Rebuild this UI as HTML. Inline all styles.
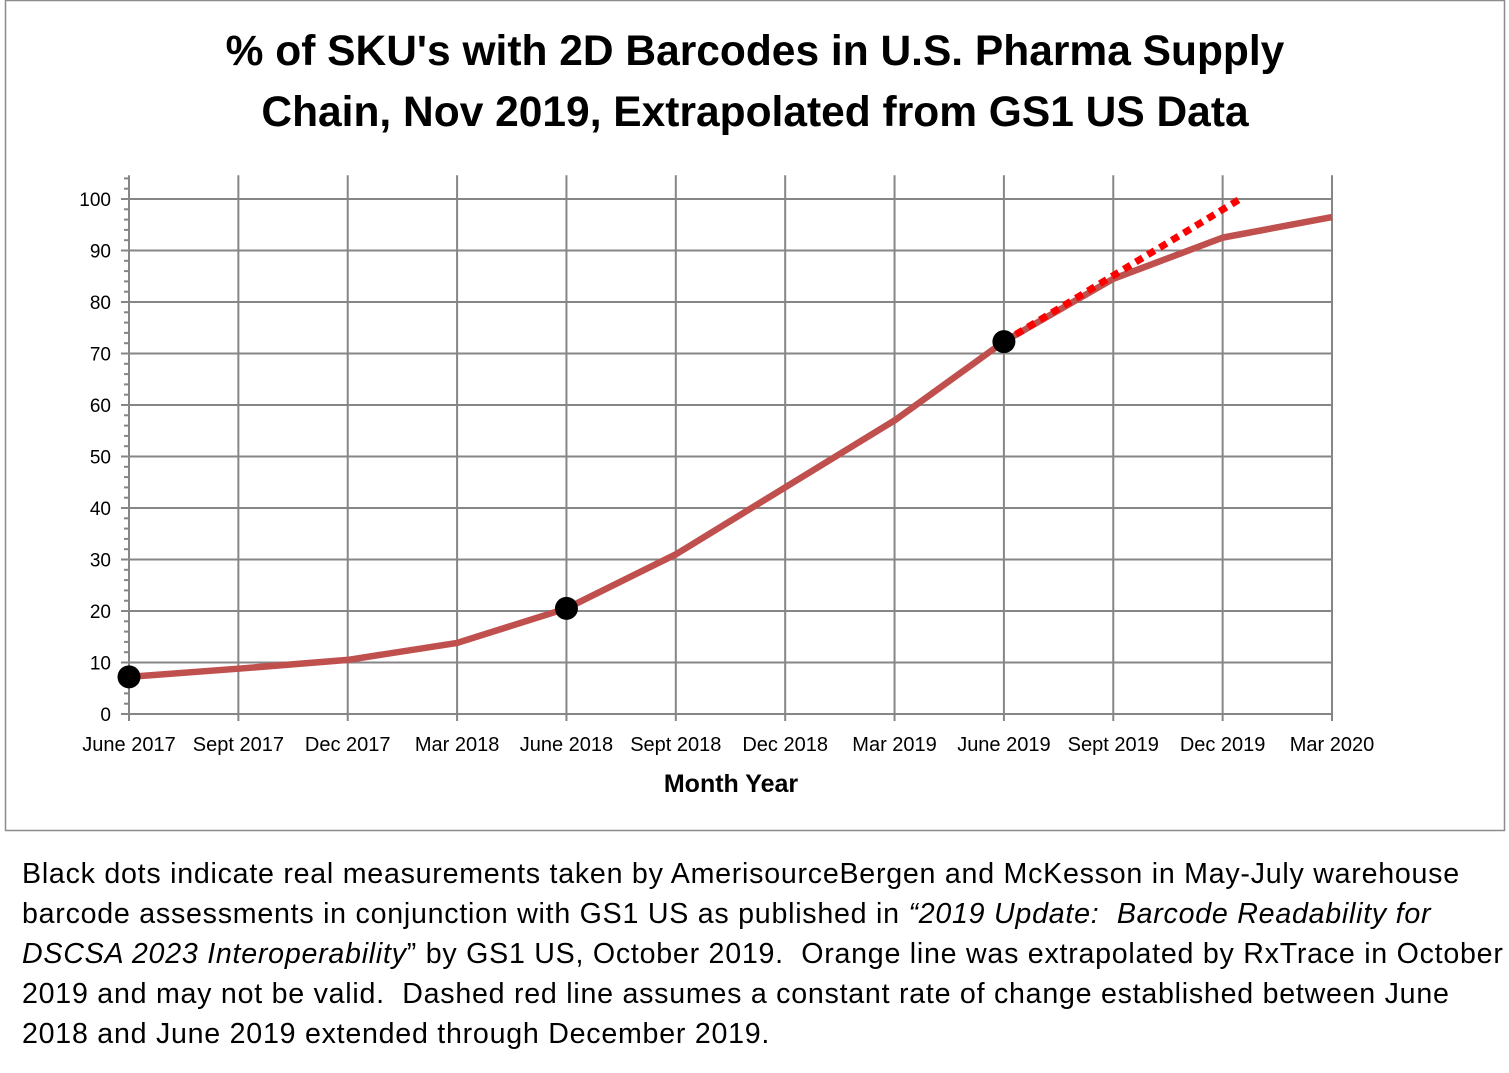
<!DOCTYPE html>
<html><head><meta charset="utf-8"><style>
body{margin:0;background:#fff;width:1509px;height:1073px;overflow:hidden;font-family:"Liberation Sans",sans-serif}
#note{position:absolute;left:22px;top:854px;width:1485px;font-size:28.6px;line-height:40px;color:#000;letter-spacing:0.75px;white-space:nowrap}
</style></head><body>
<svg id="chart" width="1509" height="840" style="position:absolute;left:0;top:0" font-family="Liberation Sans, sans-serif">
<rect x="5.5" y="0.5" width="1499" height="830" fill="#fff" stroke="#8c8c8c" stroke-width="1.5"/>
<text x="755" y="65" text-anchor="middle" font-size="42.5" font-weight="bold">% of SKU's with 2D Barcodes in U.S. Pharma Supply</text>
<text x="755" y="126" text-anchor="middle" font-size="42.5" font-weight="bold">Chain, Nov 2019, Extrapolated from GS1 US Data</text>
<g id="grid"></g><g id="axes"></g><g id="series"></g>
<text x="731" y="792" text-anchor="middle" font-size="25" font-weight="bold">Month Year</text>
</svg>
<div id="note">Black dots indicate real measurements taken by AmerisourceBergen and McKesson in May-July warehouse<br>barcode assessments in conjunction with GS1 US as published in <i>“2019 Update:&nbsp; Barcode Readability for</i><br><i>DSCSA 2023 Interoperability</i>” by GS1 US, October 2019.&nbsp; Orange line was extrapolated by RxTrace in October<br>2019 and may not be valid.&nbsp; Dashed red line assumes a constant rate of change established between June<br>2018 and June 2019 extended through December 2019.</div>
<script>
const categories=["June 2017","Sept 2017","Dec 2017","Mar 2018","June 2018","Sept 2018","Dec 2018","Mar 2019","June 2019","Sept 2019","Dec 2019","Mar 2020"];
const trendValues=[7.2,8.8,10.5,13.8,20.5,31,44,57,72.3,84.5,92.5,96.5];
const measuredIdx=[0,4,8];
const measuredValues=[7.2,20.5,72.3];
const dashedIdx=[8,10.16];
const dashedValues=[72.3,100];
const yTicks=[0,10,20,30,40,50,60,70,80,90,100];
const NS="http://www.w3.org/2000/svg";
const X0=129,X1=1332,Y0=714,PY=5.15,YMAX=104.6;
const xs=i=>X0+i*(X1-X0)/(categories.length-1);
const ys=v=>Y0-v*PY;
function el(t,a,p){const e=document.createElementNS(NS,t);for(const k in a)e.setAttribute(k,a[k]);document.getElementById(p).appendChild(e);return e;}
const plotTop=ys(YMAX);
yTicks.forEach(v=>{
 const l=el('line',{x1:X0-8,x2:X1,y1:ys(v),y2:ys(v),stroke:'#868686','stroke-width':2},'grid');
 
 
 const t=el('text',{x:111,y:ys(v)+7,'text-anchor':'end','font-size':19},'axes');t.textContent=v;
 
 
});
for(let v=0;v<=YMAX;v+=2){if(v%10){const m=el('line',{x1:X0-5,x2:X0,y1:ys(v),y2:ys(v),stroke:'#868686','stroke-width':2},'axes');
 
 }}
categories.forEach((c,i)=>{
 const l=el('line',{x1:xs(i),x2:xs(i),y1:plotTop,y2:Y0+7,stroke:'#868686','stroke-width':2},'grid');
 
 
 const t=el('text',{x:xs(i),y:751,'text-anchor':'middle','font-size':20},'axes');t.textContent=c;
 
 
});
const tl=el('polyline',{points:trendValues.map((v,i)=>xs(i)+','+ys(v)).join(' '),fill:'none',stroke:'#c0504d','stroke-width':6.5,'stroke-linejoin':'round'},'series');


const dl=el('polyline',{points:dashedIdx.map((d,i)=>xs(d)+','+ys(dashedValues[i])).join(' '),fill:'none',stroke:'#ff0000','stroke-width':7,'stroke-dasharray':'8,6'},'series');


measuredIdx.forEach((d,i)=>{
 const c=el('circle',{cx:xs(d),cy:ys(measuredValues[i]),r:11.5,fill:'#000'},'series');
 
 
});
</script>
</body></html>
